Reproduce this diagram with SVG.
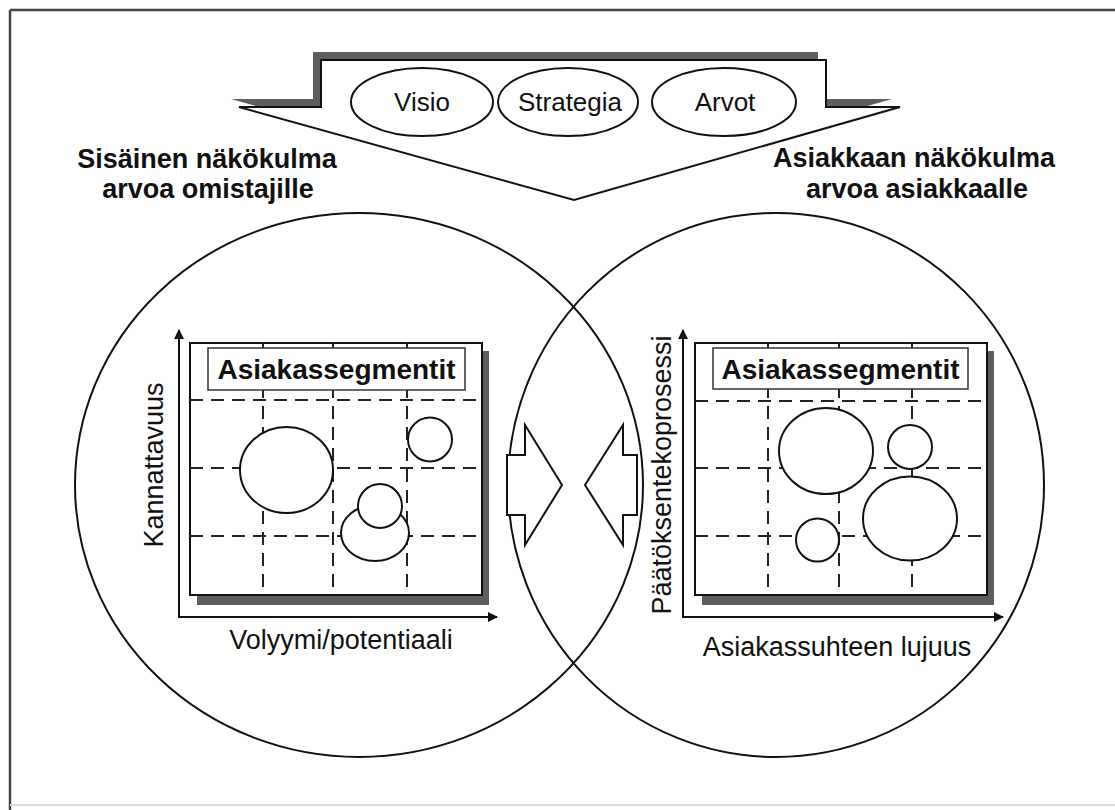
<svg xmlns="http://www.w3.org/2000/svg" width="1115" height="810" viewBox="0 0 1115 810">
<style>
.t{font-family:"Liberation Sans",Arial,sans-serif;fill:#111}
.hb{font-size:27px;font-weight:bold}
.ax{font-size:27px}
.lb{font-size:28px;font-weight:bold}
.ov{font-size:26px}
.ln{fill:none;stroke:#111;stroke-width:2}
.wh{fill:#fff;stroke:#111;stroke-width:2}
.lbox{fill:#fff;stroke:#333;stroke-width:1.5}
.sh{fill:#5e5e5e}
.dash{stroke:#222;stroke-width:2;stroke-dasharray:13 8;fill:none}
</style>
<defs>
<marker id="ah" viewBox="0 0 10 10" refX="9" refY="5" markerWidth="12" markerHeight="10" markerUnits="userSpaceOnUse" orient="auto-start-reverse">
<path d="M0,0 L10,5 L0,10 z" fill="#111"/>
</marker>
</defs>
<rect width="1115" height="810" fill="#fff"/>
<g id="frame">
<line x1="10" y1="10" x2="1115" y2="10" stroke="#444" stroke-width="2.5"/>
<line x1="10" y1="10" x2="10" y2="810" stroke="#444" stroke-width="2.5"/>
<line x1="10" y1="805" x2="1115" y2="805" stroke="#ddd" stroke-width="2"/>
</g>
<g id="circle-left"><ellipse cx="359" cy="485" rx="284" ry="272" class="ln"/></g>
<g id="circle-right"><ellipse cx="776" cy="485" rx="268" ry="272" class="ln"/></g>
<g id="top-arrow">
<polygon class="sh" points="231,99 313,99 313,52 818,52 818,99 892,99 566,192"/>
<polygon class="wh" points="239,107 321,107 321,60 826,60 826,107 900,107 574,200"/>
</g>
<g id="visio"><ellipse cx="422" cy="102" rx="71" ry="34" class="wh"/><text x="422" y="111" text-anchor="middle" class="t ov">Visio</text></g>
<g id="strategia"><ellipse cx="568" cy="102" rx="70" ry="34" class="wh"/><text x="570" y="111" text-anchor="middle" class="t ov">Strategia</text></g>
<g id="arvot"><ellipse cx="724" cy="102" rx="72" ry="34" class="wh"/><text x="725" y="111" text-anchor="middle" class="t ov">Arvot</text></g>
<g id="heading-left">
<text x="207" y="168" text-anchor="middle" class="t hb">Sisäinen näkökulma</text>
<text x="208" y="198" text-anchor="middle" class="t hb">arvoa omistajille</text>
</g>
<g id="heading-right">
<text x="914" y="167" text-anchor="middle" class="t hb">Asiakkaan näkökulma</text>
<text x="917" y="198" text-anchor="middle" class="t hb">arvoa asiakkaalle</text>
</g>
<g id="chart-left">
<rect x="197" y="351" width="292" height="254" class="sh"/>
<rect x="190" y="343" width="292" height="252" class="wh"/>
<path class="dash" d="M190,400H482M190,468H482M190,536H482M263,343V595M333,343V595M407,343V595"/>
<rect x="208" y="348" width="257" height="42" class="lbox"/>
<text x="336.5" y="379" text-anchor="middle" class="t lb">Asiakassegmentit</text>
<ellipse cx="286.5" cy="470" rx="46.5" ry="43" class="wh"/>
<circle cx="430" cy="439.5" r="22" class="wh"/>
<ellipse cx="375" cy="533" rx="34" ry="28" class="wh"/>
<circle cx="380" cy="506" r="22" class="wh"/>
</g>
<g id="chart-right">
<rect x="702" y="351" width="292" height="254" class="sh"/>
<rect x="695" y="343" width="292" height="252" class="wh"/>
<path class="dash" d="M695,401H987M695,468H987M695,536H987M768,343V595M839,343V595M912,343V595"/>
<rect x="713" y="348" width="255" height="41" class="lbox"/>
<text x="840.5" y="379" text-anchor="middle" class="t lb">Asiakassegmentit</text>
<ellipse cx="826" cy="451" rx="47" ry="43" class="wh"/>
<circle cx="910" cy="447" r="22" class="wh"/>
<ellipse cx="910" cy="518.5" rx="47" ry="42" class="wh"/>
<circle cx="817.5" cy="540" r="21.5" class="wh"/>
</g>
<g id="connectors">
<polyline class="ln" points="179,330 179,617 497,617" marker-start="url(#ah)" marker-end="url(#ah)"/>
<polyline class="ln" points="683,330 683,617 1003,617" marker-start="url(#ah)" marker-end="url(#ah)"/>
<polygon class="wh" points="507,455 525,455 525,425 562,485 525,545 525,515 507,515"/>
<polygon class="wh" points="637,455 623,455 623,425 585,485 623,545 623,515 637,515"/>
</g>
<g id="axis-labels">
<text transform="translate(163,465) rotate(-90)" text-anchor="middle" class="t ax">Kannattavuus</text>
<text x="341" y="649" text-anchor="middle" class="t ax">Volyymi/potentiaali</text>
<text transform="translate(671,475) rotate(-90)" text-anchor="middle" class="t ax">Päätöksentekoprosessi</text>
<text x="837" y="656" text-anchor="middle" class="t ax">Asiakassuhteen lujuus</text>
</g>
</svg>
